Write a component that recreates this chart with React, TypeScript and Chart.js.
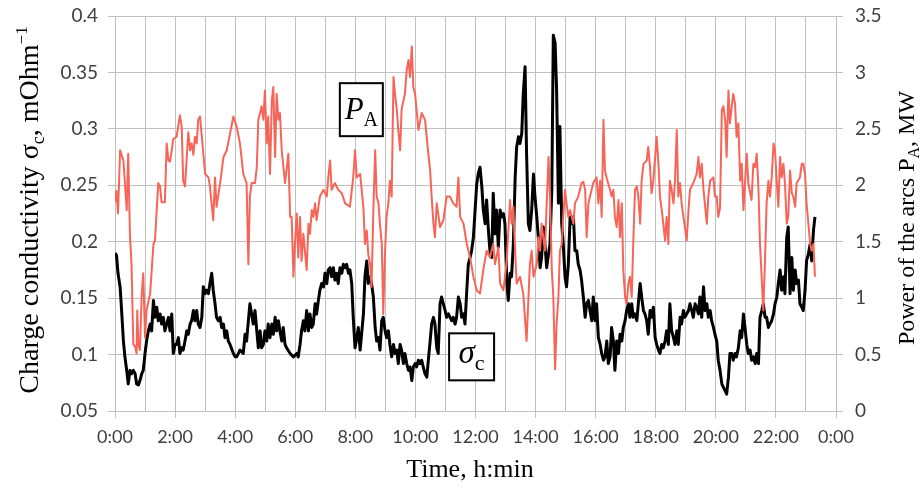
import React, { useEffect, useRef } from "react";
import { Chart, registerables } from "chart.js";

Chart.register(...registerables);

// ---- Data (hours since 0:00) ----
const powerTimes = [
  0.0, 0.05, 0.1, 0.17, 0.28, 0.39, 0.44, 0.5, 0.55, 0.61, 0.67, 0.72, 0.74, 0.78, 0.83, 0.89, 0.94, 1.0, 1.05, 1.17,
  1.28, 1.33, 1.44, 1.5, 1.55, 1.66, 1.72, 1.78, 1.83, 1.89, 1.94, 2.05, 2.16, 2.22, 2.27, 2.33, 2.44, 2.5, 2.55, 2.61,
  2.66, 2.72, 2.77, 2.83, 2.89, 3.0, 3.11, 3.16, 3.27, 3.33, 3.38, 3.5, 3.61, 3.72, 3.83, 3.94, 4.05, 4.16, 4.27, 4.38,
  4.44, 4.49, 4.55, 4.66, 4.72, 4.77, 4.83, 4.88, 4.94, 4.99, 5.05, 5.1, 5.16, 5.22, 5.27, 5.33, 5.38, 5.44, 5.49, 5.55,
  5.66, 5.77, 5.83, 5.88, 5.94, 5.99, 6.05, 6.1, 6.16, 6.21, 6.27, 6.38, 6.44, 6.49, 6.55, 6.6, 6.66, 6.71, 6.82, 6.94,
  7.05, 7.1, 7.16, 7.21, 7.32, 7.43, 7.55, 7.66, 7.82, 7.93, 7.99, 8.05, 8.16, 8.27, 8.32, 8.38, 8.43, 8.49, 8.54, 8.6,
  8.66, 8.71, 8.77, 8.82, 8.88, 8.93, 8.99, 9.04, 9.1, 9.15, 9.21, 9.27, 9.32, 9.38, 9.43, 9.49, 9.54, 9.6, 9.65, 9.71,
  9.77, 9.82, 9.88, 9.93, 9.99, 10.1, 10.21, 10.32, 10.43, 10.49, 10.54, 10.6, 10.65, 10.71, 10.82, 10.93, 11.04, 11.15, 11.26, 11.37,
  11.43, 11.49, 11.6, 11.71, 11.82, 11.93, 12.04, 12.15, 12.26, 12.37, 12.48, 12.59, 12.65, 12.76, 12.82, 12.93, 13.04, 13.15, 13.2, 13.26,
  13.32, 13.37, 13.48, 13.59, 13.7, 13.76, 13.81, 13.87, 13.93, 14.04, 14.09, 14.15, 14.2, 14.31, 14.43, 14.48, 14.54, 14.59, 14.65, 14.7,
  14.76, 14.81, 14.87, 14.92, 14.98, 15.03, 15.09, 15.15, 15.26, 15.31, 15.42, 15.53, 15.59, 15.65, 15.7, 15.76, 15.81, 15.92, 16.03, 16.09,
  16.15, 16.2, 16.26, 16.31, 16.37, 16.48, 16.53, 16.59, 16.64, 16.7, 16.76, 16.81, 16.87, 16.92, 16.98, 17.03, 17.09, 17.14, 17.2, 17.25,
  17.31, 17.37, 17.42, 17.48, 17.53, 17.59, 17.7, 17.75, 17.81, 17.86, 17.92, 17.98, 18.03, 18.09, 18.14, 18.2, 18.25, 18.31, 18.36, 18.42,
  18.47, 18.53, 18.59, 18.64, 18.7, 18.75, 18.81, 18.86, 18.97, 19.03, 19.09, 19.14, 19.25, 19.36, 19.42, 19.47, 19.53, 19.59, 19.7, 19.75,
  19.81, 19.92, 19.97, 20.03, 20.08, 20.14, 20.2, 20.25, 20.31, 20.36, 20.42, 20.47, 20.53, 20.58, 20.64, 20.69, 20.75, 20.81, 20.86, 20.92,
  20.97, 21.03, 21.08, 21.19, 21.25, 21.31, 21.36, 21.42, 21.47, 21.58, 21.64, 21.69, 21.75, 21.8, 21.86, 21.92, 21.97, 22.03, 22.08, 22.14,
  22.19, 22.25, 22.3, 22.36, 22.41, 22.47, 22.53, 22.58, 22.64, 22.69, 22.8, 22.86, 22.91, 22.97, 23.02, 23.08, 23.14, 23.19, 23.25, 23.3,
];
const powerValues = [
  1.85, 1.95, 1.75, 2.31, 2.22, 1.78, 2.28, 1.54, 1.3, 0.59, 0.57, 0.51, 0.89, 0.59, 0.54, 1.04, 1.22, 0.65, 0.89, 1.04,
  1.48, 1.51, 2.02, 1.99, 1.85, 1.85, 2.37, 2.22, 2.21, 2.31, 2.41, 2.43, 2.62, 2.52, 2.04, 1.99, 2.47, 2.31, 2.37, 2.27,
  2.43, 2.37, 2.58, 2.61, 2.43, 2.1, 2.07, 1.99, 1.69, 2.07, 1.81, 2.02, 2.25, 2.31, 2.46, 2.61, 2.52, 2.37, 2.1, 2.02,
  1.3, 1.9, 2.02, 2.02, 2.16, 2.58, 2.64, 2.7, 2.58, 2.84, 2.37, 2.61, 2.1, 2.75, 2.87, 2.25, 2.81, 2.58, 2.64, 2.31,
  2.02, 2.28, 1.72, 1.72, 1.19, 1.48, 1.75, 1.36, 1.72, 1.33, 1.57, 1.25, 1.66, 1.57, 1.78, 1.72, 1.84, 1.69, 1.9, 1.96,
  1.9, 2.07, 2.22, 1.96, 2.02, 1.96, 1.93, 1.84, 1.81, 2.07, 2.31, 2.07, 2.1, 1.8, 1.48, 1.6, 1.39, 1.3, 1.1, 1.78,
  2.31, 1.9, 1.84, 1.66, 1.48, 0.86, 1.42, 1.72, 1.84, 2.04, 1.9, 2.96, 2.81, 2.67, 2.49, 2.31, 2.67, 2.75, 2.81, 3.02,
  3.11, 2.96, 3.23, 2.87, 2.81, 2.49, 2.64, 2.58, 2.28, 2.13, 1.9, 1.66, 1.54, 1.84, 1.63, 1.69, 1.9, 1.9, 1.84, 1.81,
  2.07, 1.72, 1.66, 1.48, 1.36, 1.19, 1.07, 1.04, 1.25, 1.42, 1.36, 1.48, 1.3, 1.45, 1.13, 1.07, 1.34, 1.87, 1.66, 1.81,
  1.42, 1.13, 1.19, 1.04, 0.62, 0.98, 1.3, 1.42, 1.19, 1.3, 1.54, 1.42, 1.66, 1.42, 2.25, 1.9, 1.25, 1.01, 0.37, 0.77,
  1.01, 1.42, 1.48, 1.72, 1.96, 1.84, 1.72, 1.78, 1.66, 1.84, 1.9, 2.02, 2.03, 1.96, 1.54, 1.84, 1.9, 2.02, 2.07, 1.84,
  2.04, 1.72, 2.58, 2.13, 2.06, 1.96, 1.9, 1.96, 1.72, 1.63, 1.87, 1.54, 1.84, 1.25, 1.01, 0.95, 1.13, 1.19, 1.01, 1.48,
  1.96, 1.99, 1.9, 1.66, 2.04, 2.19, 2.22, 2.34, 2.16, 1.93, 2.04, 2.25, 2.43, 2.19, 1.9, 1.78, 1.66, 1.51, 1.72, 1.48,
  2.04, 1.96, 1.84, 2.04, 2.49, 1.9, 2.02, 1.84, 1.63, 1.51, 1.78, 1.96, 2.02, 2.1, 2.25, 2.07, 2.19, 1.96, 1.66, 1.9,
  2.04, 2.07, 1.9, 1.9, 1.72, 1.8, 2.67, 2.7, 2.58, 2.25, 2.84, 2.55, 2.7, 2.81, 2.72, 2.43, 2.55, 2.04, 2.19, 1.78,
  2.02, 2.28, 2.02, 1.87, 2.19, 2.16, 2.28, 1.96, 1.48, 0.89, 1.36, 1.84, 2.04, 1.9, 2.07, 2.37, 2.31, 2.02, 1.81, 2.25,
  2.07, 2.19, 2.02, 1.66, 1.72, 2.13, 1.93, 1.9, 1.81, 2.02, 2.07, 2.19, 2.19, 2.1, 1.84, 1.66, 1.48, 1.42, 1.48, 1.19,
];

const sigmaTimes = [
  0.0, 0.05, 0.1, 0.17, 0.22, 0.28, 0.33, 0.39, 0.44, 0.5, 0.55, 0.61, 0.67, 0.72, 0.78, 0.83, 0.89, 0.94, 1.0, 1.05,
  1.11, 1.17, 1.22, 1.28, 1.33, 1.39, 1.44, 1.5, 1.55, 1.61, 1.66, 1.72, 1.78, 1.83, 1.89, 1.94, 2.0, 2.05, 2.11, 2.16,
  2.22, 2.27, 2.33, 2.39, 2.44, 2.5, 2.55, 2.61, 2.66, 2.72, 2.77, 2.83, 2.89, 2.94, 3.0, 3.05, 3.11, 3.16, 3.22, 3.27,
  3.33, 3.38, 3.44, 3.5, 3.55, 3.61, 3.66, 3.72, 3.77, 3.83, 3.94, 4.0, 4.05, 4.16, 4.27, 4.33, 4.38, 4.44, 4.49, 4.55,
  4.6, 4.66, 4.72, 4.77, 4.83, 4.88, 4.94, 4.99, 5.05, 5.1, 5.16, 5.22, 5.27, 5.33, 5.38, 5.44, 5.49, 5.55, 5.6, 5.66,
  5.71, 5.83, 5.94, 6.05, 6.1, 6.16, 6.21, 6.27, 6.32, 6.38, 6.44, 6.49, 6.55, 6.6, 6.66, 6.71, 6.77, 6.82, 6.88, 6.94,
  6.99, 7.05, 7.1, 7.16, 7.21, 7.27, 7.32, 7.38, 7.43, 7.49, 7.55, 7.6, 7.66, 7.71, 7.77, 7.82, 7.88, 7.93, 7.99, 8.05,
  8.1, 8.16, 8.27, 8.32, 8.38, 8.43, 8.49, 8.54, 8.6, 8.66, 8.71, 8.77, 8.82, 8.88, 8.93, 8.99, 9.04, 9.1, 9.15, 9.21,
  9.27, 9.32, 9.38, 9.43, 9.49, 9.54, 9.6, 9.65, 9.71, 9.77, 9.82, 9.88, 9.93, 9.99, 10.04, 10.1, 10.15, 10.21, 10.26, 10.32,
  10.38, 10.43, 10.49, 10.54, 10.6, 10.65, 10.71, 10.76, 10.82, 10.87, 10.93, 10.99, 11.04, 11.1, 11.15, 11.21, 11.26, 11.32, 11.37, 11.43,
  11.49, 11.54, 11.6, 11.65, 11.71, 11.76, 11.82, 11.87, 11.93, 11.98, 12.04, 12.09, 12.15, 12.21, 12.26, 12.32, 12.37, 12.43, 12.48, 12.54,
  12.59, 12.65, 12.7, 12.76, 12.82, 12.87, 12.93, 12.98, 13.04, 13.09, 13.15, 13.2, 13.26, 13.32, 13.37, 13.43, 13.48, 13.54, 13.59, 13.65,
  13.7, 13.76, 13.81, 13.87, 13.93, 13.98, 14.04, 14.09, 14.15, 14.2, 14.26, 14.31, 14.37, 14.43, 14.48, 14.54, 14.59, 14.65, 14.7, 14.76,
  14.81, 14.87, 14.92, 14.98, 15.03, 15.09, 15.15, 15.2, 15.26, 15.31, 15.37, 15.42, 15.48, 15.53, 15.59, 15.65, 15.7, 15.76, 15.81, 15.87,
  15.92, 15.98, 16.03, 16.09, 16.15, 16.2, 16.26, 16.31, 16.37, 16.42, 16.48, 16.53, 16.59, 16.64, 16.7, 16.76, 16.81, 16.87, 16.92, 16.98,
  17.03, 17.09, 17.14, 17.2, 17.25, 17.31, 17.37, 17.42, 17.48, 17.53, 17.59, 17.64, 17.7, 17.75, 17.81, 17.86, 17.92, 17.98, 18.03, 18.09,
  18.14, 18.2, 18.25, 18.31, 18.36, 18.42, 18.47, 18.53, 18.59, 18.64, 18.7, 18.75, 18.81, 18.86, 18.92, 18.97, 19.03, 19.09, 19.14, 19.2,
  19.25, 19.31, 19.36, 19.42, 19.47, 19.53, 19.59, 19.64, 19.7, 19.75, 19.81, 19.86, 19.92, 19.97, 20.03, 20.08, 20.14, 20.2, 20.25, 20.31,
  20.36, 20.42, 20.47, 20.53, 20.58, 20.64, 20.69, 20.75, 20.81, 20.86, 20.92, 20.97, 21.03, 21.08, 21.14, 21.19, 21.25, 21.31, 21.36, 21.42,
  21.47, 21.53, 21.58, 21.64, 21.69, 21.75, 21.8, 21.86, 21.92, 21.97, 22.03, 22.08, 22.14, 22.19, 22.25, 22.3, 22.36, 22.41, 22.47, 22.53,
  22.58, 22.64, 22.69, 22.75, 22.8, 22.86, 22.91, 22.97, 23.02, 23.08, 23.14, 23.19, 23.25, 23.3,
];
const sigmaValues = [
  0.19, 0.188, 0.172, 0.16, 0.139, 0.112, 0.098, 0.086, 0.074, 0.086, 0.083, 0.086, 0.083, 0.074, 0.073, 0.077, 0.083, 0.086, 0.101, 0.112,
  0.121, 0.127, 0.121, 0.148, 0.133, 0.142, 0.13, 0.136, 0.127, 0.133, 0.121, 0.127, 0.133, 0.121, 0.136, 0.101, 0.109, 0.109, 0.115, 0.101,
  0.106, 0.104, 0.112, 0.121, 0.118, 0.127, 0.13, 0.139, 0.13, 0.139, 0.127, 0.124, 0.133, 0.16, 0.154, 0.157, 0.154, 0.163, 0.172, 0.157,
  0.145, 0.133, 0.13, 0.133, 0.124, 0.127, 0.115, 0.121, 0.112, 0.109, 0.101, 0.098, 0.098, 0.104, 0.101, 0.118, 0.112, 0.13, 0.145, 0.136,
  0.127, 0.139, 0.121, 0.106, 0.121, 0.106, 0.109, 0.121, 0.112, 0.127, 0.115, 0.127, 0.118, 0.133, 0.121, 0.13, 0.121, 0.112, 0.124, 0.109,
  0.106, 0.101, 0.098, 0.101, 0.098, 0.109, 0.121, 0.13, 0.121, 0.139, 0.121, 0.136, 0.124, 0.127, 0.145, 0.136, 0.148, 0.157, 0.163, 0.16,
  0.172, 0.163, 0.175, 0.177, 0.169, 0.177, 0.166, 0.172, 0.163, 0.177, 0.172, 0.18, 0.177, 0.18, 0.172, 0.175, 0.163, 0.133, 0.106, 0.115,
  0.124, 0.104, 0.136, 0.169, 0.183, 0.163, 0.169, 0.163, 0.151, 0.124, 0.112, 0.115, 0.104, 0.13, 0.133, 0.121, 0.115, 0.121, 0.109, 0.098,
  0.109, 0.101, 0.104, 0.092, 0.109, 0.104, 0.092, 0.101, 0.092, 0.086, 0.089, 0.077, 0.089, 0.092, 0.089, 0.095, 0.092, 0.095, 0.089, 0.083,
  0.08, 0.095, 0.112, 0.127, 0.133, 0.127, 0.106, 0.101, 0.145, 0.151, 0.145, 0.139, 0.133, 0.136, 0.133, 0.13, 0.133, 0.127, 0.133, 0.151,
  0.145, 0.133, 0.136, 0.127, 0.157, 0.18, 0.186, 0.192, 0.204, 0.225, 0.251, 0.26, 0.266, 0.249, 0.228, 0.216, 0.237, 0.21, 0.192, 0.186,
  0.243, 0.207, 0.228, 0.195, 0.228, 0.222, 0.225, 0.216, 0.166, 0.148, 0.172, 0.169, 0.198, 0.257, 0.284, 0.293, 0.287, 0.296, 0.331, 0.355,
  0.278, 0.216, 0.21, 0.228, 0.26, 0.24, 0.222, 0.204, 0.177, 0.186, 0.213, 0.198, 0.177, 0.189, 0.198, 0.246, 0.383, 0.376, 0.334, 0.234,
  0.302, 0.216, 0.198, 0.169, 0.16, 0.18, 0.222, 0.216, 0.222, 0.192, 0.192, 0.18, 0.175, 0.166, 0.151, 0.133, 0.145, 0.148, 0.139, 0.13,
  0.151, 0.13, 0.145, 0.115, 0.109, 0.101, 0.095, 0.098, 0.112, 0.092, 0.098, 0.124, 0.112, 0.086, 0.112, 0.101, 0.118, 0.112, 0.124, 0.13,
  0.139, 0.145, 0.133, 0.145, 0.133, 0.136, 0.13, 0.145, 0.163, 0.151, 0.139, 0.136, 0.13, 0.118, 0.139, 0.133, 0.142, 0.115, 0.109, 0.104,
  0.101, 0.109, 0.106, 0.112, 0.121, 0.109, 0.145, 0.121, 0.115, 0.109, 0.121, 0.109, 0.133, 0.127, 0.139, 0.133, 0.136, 0.139, 0.145, 0.139,
  0.133, 0.145, 0.142, 0.136, 0.151, 0.133, 0.16, 0.139, 0.145, 0.133, 0.139, 0.13, 0.124, 0.118, 0.112, 0.095, 0.086, 0.074, 0.071, 0.068,
  0.065, 0.08, 0.101, 0.101, 0.095, 0.101, 0.098, 0.106, 0.121, 0.115, 0.136, 0.124, 0.109, 0.101, 0.104, 0.095, 0.098, 0.092, 0.101, 0.092,
  0.133, 0.139, 0.145, 0.133, 0.133, 0.124, 0.127, 0.13, 0.136, 0.145, 0.151, 0.163, 0.175, 0.157, 0.169, 0.154, 0.204, 0.213, 0.154, 0.186,
  0.157, 0.175, 0.163, 0.166, 0.145, 0.142, 0.139, 0.157, 0.183, 0.189, 0.198, 0.183, 0.21, 0.222,
];

// Axis ranges / ticks
const timeRange = [0, 24];
const sigmaRange = [0.05, 0.4];
const powerRange = [0, 3.5];

const RED = "rgb(247,100,88)";
const GRID = "#c0c0c0";
const TICK_TEXT = "#404040";
const SERIF = "'Liberation Serif', 'Times New Roman', serif";
const SANS = "Lato, 'Open Sans', sans-serif";

type Seg = { t: string; size: number; dy?: number; italic?: boolean };

function drawRich(ctx: CanvasRenderingContext2D, segs: Seg[], x: number, y: number, angle: number) {
  ctx.save();
  ctx.translate(x, y);
  ctx.rotate(angle);
  ctx.textBaseline = "alphabetic";
  ctx.textAlign = "left";
  const font = (s: Seg) => `${s.italic ? "italic " : ""}${s.size}px ${SERIF}`;
  let total = 0;
  const widths = segs.map((s) => {
    ctx.font = font(s);
    const w = ctx.measureText(s.t).width;
    total += w;
    return w;
  });
  let cx = -total / 2;
  segs.forEach((s, i) => {
    ctx.font = font(s);
    ctx.fillText(s.t, cx, s.dy || 0);
    cx += widths[i];
  });
  ctx.restore();
}

const overlay = {
  id: "overlay",
  afterDraw(chart: any) {
    const { ctx, scales } = chart;
    ctx.save();
    ctx.fillStyle = "#000";
    // Left axis title
    drawRich(
      ctx,
      [
        { t: "Charge conductivity σ", size: 28 },
        { t: "c", size: 18, dy: 6 },
        { t: ", mOhm", size: 28 },
        { t: "−1", size: 17, dy: -11 },
      ],
      38,
      210,
      -Math.PI / 2
    );
    // Right axis title
    drawRich(
      ctx,
      [
        { t: "Power of the arcs P", size: 24 },
        { t: "A", size: 16, dy: 5 },
        { t: ", MW", size: 24 },
      ],
      914,
      218,
      -Math.PI / 2
    );
    // X title
    drawRich(ctx, [{ t: "Time, h:min", size: 26 }], 470, 477, 0);

    const box = (t: number, v: number, w: number, h: number, segs: Seg[], base: number) => {
      const cx = scales.x.getPixelForValue(t);
      const cy = scales.y.getPixelForValue(v);
      ctx.fillStyle = "#fff";
      ctx.fillRect(cx - w / 2, cy - h / 2, w, h);
      ctx.strokeStyle = "#000";
      ctx.lineWidth = 2;
      ctx.strokeRect(cx - w / 2, cy - h / 2, w, h);
      ctx.fillStyle = "#000";
      drawRich(ctx, segs, cx, cy + base, 0);
    };
    box(8.2, 0.317, 43, 53, [
      { t: "P", size: 31, italic: true },
      { t: "A", size: 20, dy: 7 },
    ], 9);
    box(11.87, 0.098, 45, 47, [
      { t: "σ", size: 33, italic: true },
      { t: "c", size: 22, dy: 7 },
    ], 6);
    ctx.restore();
  },
};

export default function App() {
  const ref = useRef<HTMLCanvasElement | null>(null);
  useEffect(() => {
    document.body.style.margin = "0";
    const canvas = ref.current!;
    const chart = new Chart(canvas, {
      type: "line",
      data: {
        datasets: [
          {
            label: "P_A",
            data: powerTimes.map((t, i) => ({ x: t, y: powerValues[i] })),
            yAxisID: "y1",
            borderColor: RED,
            borderWidth: 2,
            pointRadius: 0,
            tension: 0,
            borderJoinStyle: "round",
          },
          {
            label: "sigma_c",
            data: sigmaTimes.map((t, i) => ({ x: t, y: sigmaValues[i] })),
            yAxisID: "y",
            borderColor: "#000",
            borderWidth: 3,
            pointRadius: 0,
            tension: 0,
            borderJoinStyle: "round",
          },
        ],
      },
      options: {
        responsive: false,
        animation: false,
        devicePixelRatio: 1,
        layout: { padding: { top: 16, left: 0, right: 0, bottom: 0 } },
        plugins: { legend: { display: false }, tooltip: { enabled: false } },
        scales: {
          x: {
            type: "linear",
            min: timeRange[0],
            max: timeRange[1],
            ticks: {
              stepSize: 1,
              autoSkip: false,
              maxRotation: 0,
              padding: 8,
              color: TICK_TEXT,
              font: { family: SANS, size: 18 },
              callback: (v: any) => (Number(v) % 2 === 0 ? `${Number(v) % 24}:00` : ""),
            },
            grid: {
              color: GRID,
              lineWidth: 1,
              tickLength: 7,
              tickColor: (c: any) => (c.tick && Number(c.tick.value) % 2 === 0 ? GRID : "rgba(0,0,0,0)"),
            },
            border: { color: GRID },
            afterFit: (s: any) => {
              s.height = 78;
              s.paddingLeft = 0;
              s.paddingRight = 0;
            },
          },
          y: {
            position: "left",
            min: sigmaRange[0],
            max: sigmaRange[1],
            ticks: {
              stepSize: 0.05,
              padding: 10,
              color: TICK_TEXT,
              font: { family: SANS, size: 19 },
              callback: (v: any) => String(parseFloat(Number(v).toFixed(2))),
            },
            grid: { color: GRID, lineWidth: 1, tickLength: 7 },
            border: { color: GRID },
            afterFit: (s: any) => {
              s.width = 115;
              s.paddingTop = 0;
              s.paddingBottom = 0;
            },
          },
          y1: {
            position: "right",
            min: powerRange[0],
            max: powerRange[1],
            ticks: {
              stepSize: 0.5,
              padding: 12,
              color: TICK_TEXT,
              font: { family: SANS, size: 19 },
              callback: (v: any) => String(parseFloat(Number(v).toFixed(2))),
            },
            grid: { drawOnChartArea: false, color: GRID, tickLength: 7 },
            border: { color: GRID },
            afterFit: (s: any) => {
              s.width = 87;
              s.paddingTop = 0;
              s.paddingBottom = 0;
            },
          },
        },
      } as any,
      plugins: [overlay],
    });
    return () => chart.destroy();
  }, []);
  return <canvas ref={ref} width={923} height={489} style={{ display: "block", width: 923, height: 489 }} />;
}
